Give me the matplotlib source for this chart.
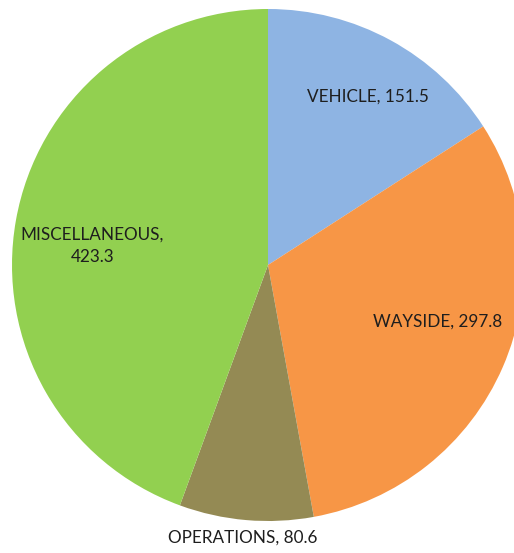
import numpy as np
import matplotlib
matplotlib.use("Agg")
import matplotlib.pyplot as plt

categories = ["VEHICLE", "WAYSIDE", "OPERATIONS", "MISCELLANEOUS"]
values = [151.5, 297.8, 80.6, 423.3]
colors = ["#8EB4E3", "#F79646", "#948A54", "#92D050"]
label_texts = ["VEHICLE, 151.5", "WAYSIDE, 297.8", "OPERATIONS, 80.6", "MISCELLANEOUS,\n423.3"]
# label placement style: (radial distance, angular offset deg)
label_style = [(0.764, -2.2), (0.70, 5.0), (1.07, -0.4), (0.69, 3.8)]

W, H = 514, 553
fig = plt.figure(figsize=(W / 100, H / 100), dpi=100)
cx, cy, R = 268, 265, 256
ax = fig.add_axes([(cx - R) / W, (H - cy - R) / H, 2 * R / W, 2 * R / H])
wedges, _ = ax.pie(values, colors=colors, startangle=90, counterclock=False,
                   radius=1.0, wedgeprops=dict(linewidth=0))
ax.set_xlim(-1, 1)
ax.set_ylim(-1, 1)
ax.set_aspect("equal")
ax.axis("off")

for w, txt, (d, off) in zip(wedges, label_texts, label_style):
    mid = np.deg2rad((w.theta1 + w.theta2) / 2 + off)
    ax.text(d * np.cos(mid), d * np.sin(mid), txt, ha="center", va="center",
            fontsize=12.3, family=["Lato", "DejaVu Sans"], color="#1e1e1e",
            linespacing=1.45, clip_on=False)

fig.savefig("out.png", dpi=100)
